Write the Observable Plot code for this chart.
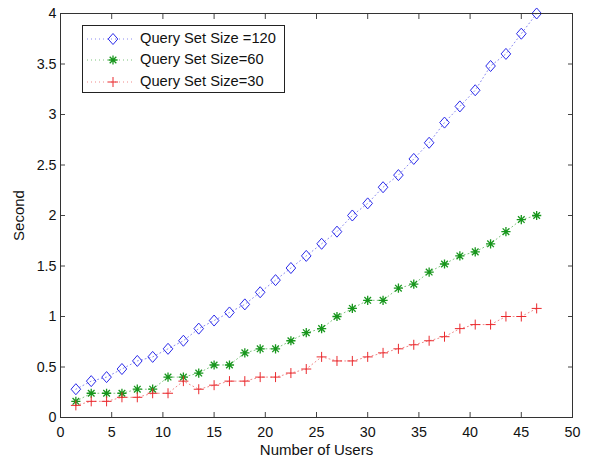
<!DOCTYPE html>
<html>
<head>
<meta charset="utf-8">
<script src="https://cdn.jsdelivr.net/npm/d3@7"></script>
<script src="https://cdn.jsdelivr.net/npm/@observablehq/plot@0.6"></script>
<style>
  body { margin: 0; background: #fff; }
  #wrap { position: relative; width: 589px; height: 458px; font-family: "Liberation Sans", Arial, Helvetica, sans-serif; }
  #legend { position: absolute; left: 82px; top: 25px; width: 201px; height: 66px; border: 1px solid #222; background: #fff; }
  #legend .row { position: absolute; left: 0; height: 20px; width: 200px; }
  #legend svg { position: absolute; left: 2px; top: 0; }
  #legend span { position: absolute; left: 57px; top: 1px; font-size: 14.7px; color: #111; white-space: nowrap; }
</style>
</head>
<body>
<div id="wrap"><div id="chart"></div><div id="legend"></div></div>
<script>
const users = [1.5, 3, 4.5, 6, 7.5, 9, 10.5, 12, 13.5, 15, 16.5, 18, 19.5, 21, 22.5, 24, 25.5, 27, 28.5, 30, 31.5, 33, 34.5, 36, 37.5, 39, 40.5, 42, 43.5, 45, 46.5];
const size120 = [0.28, 0.36, 0.40, 0.48, 0.56, 0.60, 0.68, 0.76, 0.88, 0.96, 1.04, 1.12, 1.24, 1.36, 1.48, 1.60, 1.72, 1.84, 2.00, 2.12, 2.28, 2.40, 2.56, 2.72, 2.92, 3.08, 3.24, 3.48, 3.60, 3.80, 4.00];
const size60 = [0.16, 0.24, 0.24, 0.24, 0.28, 0.28, 0.40, 0.40, 0.44, 0.52, 0.52, 0.64, 0.68, 0.68, 0.76, 0.84, 0.88, 1.00, 1.08, 1.16, 1.16, 1.28, 1.32, 1.44, 1.52, 1.60, 1.64, 1.72, 1.84, 1.96, 2.00];
const size30 = [0.12, 0.16, 0.16, 0.20, 0.20, 0.24, 0.24, 0.36, 0.28, 0.32, 0.36, 0.36, 0.40, 0.40, 0.44, 0.48, 0.60, 0.56, 0.56, 0.60, 0.64, 0.68, 0.72, 0.76, 0.80, 0.88, 0.92, 0.92, 1.00, 1.00, 1.08];
const seriesLabels = ["Query Set Size =120", "Query Set Size=60", "Query Set Size=30"];
const xTicks = [0, 5, 10, 15, 20, 25, 30, 35, 40, 45, 50];
const yTicks = [0, 0.5, 1, 1.5, 2, 2.5, 3, 3.5, 4];

const colors = ["#2b2bea", "#17961c", "#ea2a2e"];
const lineColors = ["#8a8af0", "#7fc47f", "#f08a8a"];

// custom MATLAB-like symbols
const symDiamond = { draw(ctx, size) { const r = Math.sqrt(size / Math.PI); ctx.moveTo(0, -r * 1.15); ctx.lineTo(r, 0); ctx.lineTo(0, r * 1.15); ctx.lineTo(-r, 0); ctx.closePath(); } };
const symStar = { draw(ctx, size) { const r = Math.sqrt(size / Math.PI); const d = r * 0.72;
  ctx.moveTo(-r, 0); ctx.lineTo(r, 0); ctx.moveTo(0, -r); ctx.lineTo(0, r);
  ctx.moveTo(-d, -d); ctx.lineTo(d, d); ctx.moveTo(-d, d); ctx.lineTo(d, -d); } };
const symPlus = { draw(ctx, size) { const r = Math.sqrt(size / Math.PI); ctx.moveTo(-r, 0); ctx.lineTo(r, 0); ctx.moveTo(0, -r); ctx.lineTo(0, r); } };
const symbols = [symDiamond, symStar, symPlus];
const radii = [4.8, 4.6, 5];

const allSeries = [size120, size60, size30];
const data = allSeries.map((vals, i) => users.map((u, j) => ({ x: u, y: vals[j], s: seriesLabels[i] })));

const marks = [];
data.forEach((d, i) => {
  marks.push(Plot.line(d, { x: "x", y: "y", stroke: lineColors[i], strokeWidth: 1, strokeDasharray: "1,3" }));
});
data.forEach((d, i) => {
  marks.push(Plot.dot(d, { x: "x", y: "y", symbol: () => symbols[i], r: radii[i], stroke: colors[i], fill: "none", strokeWidth: i === 1 ? 1.3 : 1 }));
});

const chart = Plot.plot({
  width: 589,
  height: 458,
  marginLeft: 60,
  marginRight: 17,
  marginTop: 13,
  marginBottom: 41,
  style: { fontFamily: "'Liberation Sans', Arial, Helvetica, sans-serif", color: "#111", background: "#fff" },
  x: { domain: [0, 50], ticks: xTicks },
  y: { domain: [0, 4], ticks: yTicks },
  marks: [
    ...marks,
    Plot.axisX({ anchor: "bottom", ticks: xTicks, tickSize: 0, tickPadding: 9, label: "Number of Users", labelAnchor: "center", labelArrow: "none", labelOffset: 37 }),
    Plot.axisY({ anchor: "left", ticks: yTicks, tickSize: 0, tickPadding: 4, tickFormat: d => String(d), label: "Second", labelAnchor: "center", labelArrow: "none", labelOffset: 47 }),
    Plot.axisX({ anchor: "bottom", ticks: xTicks, tickSize: -5, tickFormat: () => "", label: null, stroke: "#444" }),
    Plot.axisX({ anchor: "top", ticks: xTicks, tickSize: -5, tickFormat: () => "", label: null, stroke: "#444" }),
    Plot.axisY({ anchor: "left", ticks: yTicks, tickSize: -5, tickFormat: () => "", label: null, stroke: "#444" }),
    Plot.axisY({ anchor: "right", ticks: yTicks, tickSize: -5, tickFormat: () => "", label: null, stroke: "#444" }),
    Plot.frame({ stroke: "#333", strokeWidth: 1 })
  ]
});
d3.select(chart).selectAll("text").style("font-size", "14.3px").style("fill", "#111");
d3.select(chart).selectAll('g[aria-label$="axis label"] text').style("font-size", "15px");
document.getElementById("chart").appendChild(chart);

// legend
const legend = document.getElementById("legend");
const rowTops = [3, 24, 46];
seriesLabels.forEach((lab, i) => {
  const row = document.createElement("div");
  row.className = "row";
  row.style.top = rowTops[i] + "px";
  const ns = "http://www.w3.org/2000/svg";
  const svg = document.createElementNS(ns, "svg");
  svg.setAttribute("width", 50); svg.setAttribute("height", 20);
  const ln = document.createElementNS(ns, "line");
  ln.setAttribute("x1", 2); ln.setAttribute("x2", 47); ln.setAttribute("y1", 10); ln.setAttribute("y2", 10);
  ln.setAttribute("stroke", lineColors[i]); ln.setAttribute("stroke-dasharray", "1,3");
  svg.appendChild(ln);
  const p = d3.path();
  symbols[i].draw(p, Math.PI * radii[i] * radii[i]);
  const path = document.createElementNS(ns, "path");
  path.setAttribute("d", p.toString());
  path.setAttribute("transform", "translate(28,10)");
  path.setAttribute("fill", "none");
  path.setAttribute("stroke", colors[i]);
  path.setAttribute("stroke-width", i === 1 ? 1.3 : 1);
  svg.appendChild(path);
  row.appendChild(svg);
  const span = document.createElement("span");
  span.textContent = lab;
  row.appendChild(span);
  legend.appendChild(row);
});
</script>
</body>
</html>
